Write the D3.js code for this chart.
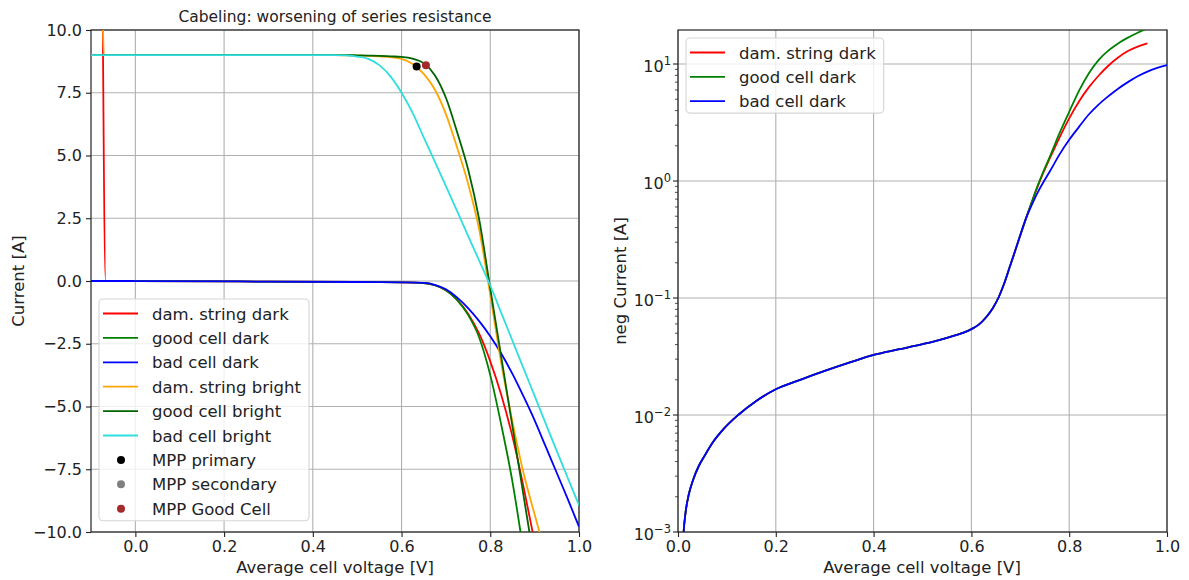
<!DOCTYPE html>
<html>
<head>
<meta charset="utf-8">
<script src="https://cdn.jsdelivr.net/npm/d3@7"></script>
<style>
  body { margin: 0; background: #fff; }
  svg { font-family: "DejaVu Sans", sans-serif; }
</style>
</head>
<body>
<svg id="chart" width="1189" height="580"></svg>
<script>
// ---- Dark I-V curves, linear panel (current in A, forward current is negative) ----
const darkV = [-0.1, -0.0735, -0.067, 0.0, 0.3, 0.5, 0.6, 0.65, 0.675, 0.7, 0.725, 0.75, 0.775,
  0.8, 0.825, 0.85, 0.875, 0.9, 0.925, 0.95, 0.975, 1.0];
const darkString = [null, 10.5, 0.0, -0.001, -0.024, -0.04, -0.054, -0.08, -0.17, -0.37, -0.74,
  -1.3, -2.1, -3.2, -4.55, -6.2, -8.2, -10.4, null, null, null, null];
const darkGood = [0, 0, 0, -0.001, -0.024, -0.04, -0.054, -0.08, -0.17, -0.37, -0.75,
  -1.35, -2.25, -3.75, -5.75, -8.0, -10.8, null, null, null, null, null];
const darkBad = [0, 0, 0, -0.001, -0.024, -0.04, -0.054, -0.075, -0.15, -0.33, -0.65,
  -1.08, -1.6, -2.2, -2.9, -3.7, -4.6, -5.55, -6.6, -7.65, -8.7, -9.79];

// ---- Illuminated I-V curves ----
const brightV = [-0.1, -0.0735, -0.071, 0.4, 0.45, 0.475, 0.5, 0.525, 0.55, 0.575, 0.6, 0.625,
  0.65, 0.675, 0.7, 0.725, 0.75, 0.775, 0.8, 0.825, 0.85, 0.875, 0.9, 0.925, 0.95, 0.975, 1.0];
const brightString = [null, 10.5, 9.0, 9.0, 9.0, 8.99, 8.98, 8.97, 8.95, 8.92, 8.85, 8.65,
  8.25, 7.63, 6.65, 5.33, 3.88, 2.05, -0.55, -3.3, -5.6, -7.65, -9.3, -10.9, null, null, null];
const brightGood = [9.0, 9.0, 9.0, 9.0, 9.0, 9.0, 8.99, 8.98, 8.97, 8.95, 8.93, 8.86,
  8.68, 8.2, 7.3, 5.95, 4.45, 2.45, -0.3, -3.05, -5.8, -8.55, -11.3, null, null, null, null];
const brightBad = [9.0, 9.0, 9.0, 9.0, 9.0, 8.985, 8.94, 8.85, 8.6, 8.15, 7.5, 6.7,
  5.72, 4.76, 3.78, 2.79, 1.8, 0.81, -0.18, -1.28, -2.38, -3.48, -4.58, -5.68, -6.78, -7.86, -8.93];

// ---- Maximum power points [V, A] ----
const mppPrimary = [[0.634, 8.55]];
const mppSecondary = [];
const mppGoodCell = [[0.655, 8.6]];

// ---- Dark current magnitude, log panel (A) ----
const negV = [0.008, 0.0115, 0.0154, 0.022, 0.031, 0.042, 0.054, 0.072, 0.092, 0.123, 0.16,
  0.2, 0.25, 0.3, 0.35, 0.4, 0.45, 0.5, 0.55, 0.6, 0.615, 0.631, 0.644, 0.656, 0.667, 0.678,
  0.69, 0.701, 0.712, 0.724, 0.736, 0.748, 0.76, 0.78, 0.8, 0.82, 0.84, 0.86, 0.88, 0.9,
  0.92, 0.94, 0.96, 0.98, 1.0];
const negCommon = [5e-4, 1.0e-3, 1.46e-3, 2.09e-3, 2.8e-3, 3.63e-3, 4.45e-3, 5.9e-3, 7.5e-3,
  1.0e-2, 1.32e-2, 1.66e-2, 2.0e-2, 2.38e-2, 2.8e-2, 3.26e-2, 3.63e-2, 4.03e-2, 4.57e-2, 5.42e-2,
  5.92e-2, 6.92e-2, 8.22e-2, 0.102, 0.133, 0.182, 0.257, 0.355, 0.484];
const negString = negCommon.concat([0.668, 0.908, 1.20, 1.55, 2.34, 3.43, 4.79, 6.31, 7.94, 9.66,
  11.35, 12.9, 14.1, 15.0, null, null]);
const negGood = negCommon.concat([0.673, 0.923, 1.23, 1.60, 2.55, 3.9, 5.9, 8.3, 10.8, 13.0,
  15.0, 16.8, 18.5, 20.2, null, null]);
const negBad = negCommon.concat([0.631, 0.804, 0.989, 1.20, 1.68, 2.25, 2.9, 3.7, 4.5, 5.3,
  6.15, 7.0, 7.85, 8.6, 9.25, 9.79]);

// ---- Ticks ----
const ivTicksX = [0.0, 0.2, 0.4, 0.6, 0.8, 1.0];
const ivTicksY = [-10, -7.5, -5, -2.5, 0, 2.5, 5, 7.5, 10];
const logTicksX = [0.0, 0.2, 0.4, 0.6, 0.8, 1.0];
const logTicksY = [1e-3, 1e-2, 1e-1, 1, 10];

const svg = d3.select("#chart");
const C = { red: "#ff0000", green: "#008000", blue: "#0000ff", orange: "#ffa500",
  darkgreen: "#006400", cyan: "#2fdede", black: "#000000", gray: "#808080", brown: "#a52a2a" };

const xL = d3.scaleLinear([-0.1, 1.0], [91, 579]);
const yL = d3.scaleLinear([-10, 10], [532, 30]);
const xR = d3.scaleLinear([0, 1], [678, 1167]);
const yR = d3.scaleLog([1e-3, 19.53], [532, 30]);

const defs = svg.append("defs");
defs.append("clipPath").attr("id", "clipL").append("rect")
  .attr("x", 91).attr("y", 30).attr("width", 488).attr("height", 502);
defs.append("clipPath").attr("id", "clipR").append("rect")
  .attr("x", 678).attr("y", 30).attr("width", 489).attr("height", 502);

const FS = 16;

function gridAndAxes(g, x, y, xt, yt, yFmt, isLog) {
  const [x0, x1] = x.range(), [y1, y0] = y.range();
  // grid
  g.append("g").selectAll("line").data(xt).join("line")
    .attr("x1", d => x(d)).attr("x2", d => x(d)).attr("y1", y0).attr("y2", y1)
    .attr("stroke", "#b0b0b0").attr("stroke-width", 1.1);
  g.append("g").selectAll("line").data(yt).join("line")
    .attr("x1", x0).attr("x2", x1).attr("y1", d => y(d)).attr("y2", d => y(d))
    .attr("stroke", "#b0b0b0").attr("stroke-width", 1.1);

  // x axis
  const ax = g.append("g").attr("transform", `translate(0,${y1})`)
    .call(d3.axisBottom(x).tickValues(xt).tickFormat(d3.format(".1f")).tickSize(5).tickPadding(4).tickSizeOuter(0));
  ax.select(".domain").remove();
  ax.selectAll("line").attr("stroke", "#222").attr("stroke-width", 1.1);
  ax.selectAll("text").attr("font-size", FS).attr("fill", "#222").attr("font-family", "DejaVu Sans");

  // y axis
  if (!isLog) {
    const ay = g.append("g").attr("transform", `translate(${x0},0)`)
      .call(d3.axisLeft(y).tickValues(yt).tickFormat(yFmt).tickSize(5).tickPadding(4).tickSizeOuter(0));
    ay.select(".domain").remove();
    ay.selectAll("line").attr("stroke", "#222").attr("stroke-width", 1.1);
    ay.selectAll("text").attr("font-size", FS).attr("fill", "#222").attr("font-family", "DejaVu Sans");
  } else {
    // minor ticks 2..9 per decade
    const minors = [];
    for (let e = -3; e <= 1; e++) for (let m = 2; m <= 9; m++) {
      const v = m * Math.pow(10, e);
      if (v <= y.domain()[1]) minors.push(v);
    }
    g.append("g").selectAll("line").data(minors).join("line")
      .attr("x1", x0 - 3).attr("x2", x0).attr("y1", d => y(d)).attr("y2", d => y(d))
      .attr("stroke", "#222").attr("stroke-width", 0.8);
    g.append("g").selectAll("line").data(yt).join("line")
      .attr("x1", x0 - 5).attr("x2", x0).attr("y1", d => y(d)).attr("y2", d => y(d))
      .attr("stroke", "#222").attr("stroke-width", 1.1);
    const lab = g.append("g").selectAll("text").data(yt).join("text")
      .attr("x", x0 - 7).attr("y", d => y(d) + 7.5)
      .attr("text-anchor", "end").attr("font-size", FS).attr("fill", "#222");
    lab.append("tspan").text("10");
    lab.append("tspan").attr("dy", -7).attr("font-size", 11.5)
      .text(d => { const e = Math.round(Math.log10(d)); return e < 0 ? "\u2212" + (-e) : "" + e; });
  }

  // spines
  g.append("rect").attr("x", x0).attr("y", y0).attr("width", x1 - x0).attr("height", y1 - y0)
    .attr("fill", "none").attr("stroke", "#222").attr("stroke-width", 1.2);
}

function drawLine(g, x, y, xs, ys, color, clipId) {
  const pts = xs.map((v, i) => [v, ys[i]]);
  const line = d3.line()
    .defined(d => d[1] !== null)
    .x(d => x(d[0])).y(d => y(d[1])).curve(d3.curveMonotoneX);
  g.append("path").attr("d", line(pts)).attr("fill", "none")
    .attr("stroke", color).attr("stroke-width", 1.8).attr("stroke-linejoin", "round")
    .attr("clip-path", `url(#${clipId})`);
}

function legend(g, x, y, rowH, items) {
  const lg = g.append("g");
  const box = lg.append("rect").attr("x", x).attr("y", y).attr("rx", 4).attr("ry", 4)
    .attr("fill", "#fff").attr("fill-opacity", 0.8).attr("stroke", "#d5d5d5").attr("stroke-width", 1.1);
  let maxW = 0;
  items.forEach((it, i) => {
    const cy = y + 14.5 + i * rowH;
    if (it.type === "line") {
      lg.append("line").attr("x1", x + 4).attr("x2", x + 39).attr("y1", cy).attr("y2", cy)
        .attr("stroke", it.color).attr("stroke-width", 1.8);
    } else {
      lg.append("circle").attr("cx", x + 22).attr("cy", cy).attr("r", 4).attr("fill", it.color);
    }
    const t = lg.append("text").attr("x", x + 53).attr("y", cy + 6).attr("font-size", 16.5)
      .attr("fill", "#222").text(it.label);
    maxW = Math.max(maxW, t.node().getComputedTextLength());
  });
  box.attr("width", 53 + maxW + 8).attr("height", 14.5 + (items.length - 1) * rowH + 12);
}

// ================= Left panel: I-V =================
const gL = svg.append("g");
gridAndAxes(gL, xL, yL, ivTicksX, ivTicksY, d3.format(".1f"), false);

drawLine(gL, xL, yL, darkV, darkString, C.red, "clipL");
drawLine(gL, xL, yL, darkV, darkGood, C.green, "clipL");
drawLine(gL, xL, yL, darkV, darkBad, C.blue, "clipL");
drawLine(gL, xL, yL, brightV, brightString, C.orange, "clipL");
drawLine(gL, xL, yL, brightV, brightGood, C.darkgreen, "clipL");
drawLine(gL, xL, yL, brightV, brightBad, C.cyan, "clipL");

[[mppPrimary, C.black], [mppSecondary, C.gray], [mppGoodCell, C.brown]].forEach(([pts, col]) => {
  gL.append("g").selectAll("circle").data(pts).join("circle")
    .attr("cx", d => xL(d[0])).attr("cy", d => yL(d[1])).attr("r", 4).attr("fill", col);
});

gL.append("text").attr("x", 335).attr("y", 22).attr("text-anchor", "middle")
  .attr("font-size", 15.5).attr("fill", "#222").text("Cabeling: worsening of series resistance");
gL.append("text").attr("x", 335).attr("y", 573).attr("text-anchor", "middle")
  .attr("font-size", 16.5).attr("fill", "#222").text("Average cell voltage [V]");
gL.append("text").attr("transform", "translate(24,281) rotate(-90)").attr("text-anchor", "middle")
  .attr("font-size", 16.5).attr("fill", "#222").text("Current [A]");

legend(gL, 99, 299, 24.4, [
  { label: "dam. string dark", color: C.red, type: "line" },
  { label: "good cell dark", color: C.green, type: "line" },
  { label: "bad cell dark", color: C.blue, type: "line" },
  { label: "dam. string bright", color: C.orange, type: "line" },
  { label: "good cell bright", color: C.darkgreen, type: "line" },
  { label: "bad cell bright", color: C.cyan, type: "line" },
  { label: "MPP primary", color: C.black, type: "dot" },
  { label: "MPP secondary", color: C.gray, type: "dot" },
  { label: "MPP Good Cell", color: C.brown, type: "dot" }
]);

// ================= Right panel: dark current, log scale =================
const gR = svg.append("g");
gridAndAxes(gR, xR, yR, logTicksX, logTicksY, null, true);

drawLine(gR, xR, yR, negV, negString, C.red, "clipR");
drawLine(gR, xR, yR, negV, negGood, C.green, "clipR");
drawLine(gR, xR, yR, negV, negBad, C.blue, "clipR");

gR.append("text").attr("x", 922).attr("y", 573).attr("text-anchor", "middle")
  .attr("font-size", 16.5).attr("fill", "#222").text("Average cell voltage [V]");
gR.append("text").attr("transform", "translate(626,281) rotate(-90)").attr("text-anchor", "middle")
  .attr("font-size", 16.5).attr("fill", "#222").text("neg Current [A]");

legend(gR, 686, 38, 24.3, [
  { label: "dam. string dark", color: C.red, type: "line" },
  { label: "good cell dark", color: C.green, type: "line" },
  { label: "bad cell dark", color: C.blue, type: "line" }
]);
</script>
</body>
</html>
